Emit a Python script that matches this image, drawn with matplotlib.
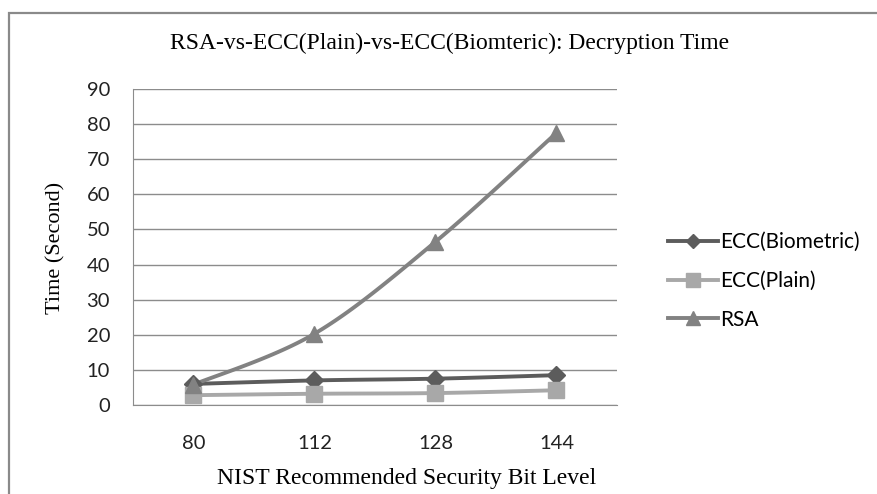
import numpy as np
import matplotlib.pyplot as plt
from matplotlib.patches import Rectangle
from matplotlib.lines import Line2D

bit_levels = ['80', '112', '128', '144']
ecc_biometric = [6.0, 7.0, 7.5, 8.5]
ecc_plain = [2.8, 3.2, 3.4, 4.2]
rsa = [5.8, 20.3, 46.5, 77.5]

W, H = 878, 494
fig = plt.figure(figsize=(W / 100, H / 100), dpi=100)
ax = fig.add_axes([133 / W, (H - 405) / H, (617 - 133) / W, (405 - 89) / H])

# chart frame
fig.add_artist(Rectangle((9 / W, -0.05), 1.2, 1.05 - 13 / H, transform=fig.transFigure,
                         fill=False, edgecolor='#8a8a8a', lw=1.6))

sans = 'Lato'
serif = 'Liberation Serif'


def smooth(xs, ys, sx=121.0, sy=3.52, n=30):
    # bezier smoothing done in pixel space so the curve shape follows the screen
    px = np.array(xs, float) * sx
    py = np.array(ys, float) * sy
    pts = np.column_stack([px, py])
    out = [pts[0]]
    for i in range(len(pts) - 1):
        p0 = pts[i - 1] if i > 0 else pts[i]
        p1, p2 = pts[i], pts[i + 1]
        p3 = pts[i + 2] if i + 2 < len(pts) else pts[i + 1]
        c1 = p1 + (p2 - p0) / 6
        c2 = p2 - (p3 - p1) / 6
        t = np.linspace(0, 1, n)[1:, None]
        seg = ((1 - t) ** 3 * p1 + 3 * (1 - t) ** 2 * t * c1
               + 3 * (1 - t) * t ** 2 * c2 + t ** 3 * p2)
        out.extend(seg)
    out = np.array(out)
    return out[:, 0] / sx, out[:, 1] / sy


xi = np.arange(len(bit_levels))
series = [
    ('ECC(Biometric)', ecc_biometric, '#5c5c5c', 'D', 9.5, 7.5),
    ('ECC(Plain)', ecc_plain, '#a8a8a8', 's', 11.5, 10),
    ('RSA', rsa, '#828282', '^', 12, 10.5),
]

handles = []
for name, vals, col, mk, ms, lms in series:
    cx, cy = smooth(xi, vals)
    ax.plot(cx, cy, color=col, lw=2.8, solid_capstyle='round', zorder=3)
    ax.plot(xi, vals, linestyle='none', marker=mk, markersize=ms,
            color=col, markeredgecolor=col, zorder=4)
    handles.append(Line2D([], [], color=col, lw=2.8, marker=mk, markersize=lms,
                          markeredgecolor=col))

ax.set_xlim(-0.5, 3.5)
ax.set_ylim(0, 90)
ax.set_yticks(range(0, 91, 10))
ax.set_xticks(xi)
ax.set_xticklabels(bit_levels)
ax.grid(axis='y', color='#8c8c8c', lw=1)
ax.set_axisbelow(True)
for s in ['top', 'right']:
    ax.spines[s].set_visible(False)
for s in ['left', 'bottom']:
    ax.spines[s].set_color('#8c8c8c')
ax.tick_params(length=0, labelsize=14.5, colors='#222222')
ax.tick_params(axis='y', pad=16.5)
ax.tick_params(axis='x', pad=21.5)
for lab in ax.get_xticklabels() + ax.get_yticklabels():
    lab.set_family(sans)

fig.text(450 / W, 1 - 43 / H, 'RSA-vs-ECC(Plain)-vs-ECC(Biomteric): Decryption Time',
         family=serif, fontsize=17, ha='center', va='center')
fig.text(56 / W, 1 - 248 / H, 'Time (Second)', family=serif, fontsize=16,
         rotation=90, ha='center', va='center')
fig.text(407 / W, 1 - 478 / H, 'NIST Recommended Security Bit Level', family=serif,
         fontsize=17, ha='center', va='center')

fig.legend(handles=handles, labels=[s[0] for s in series],
           loc='center left', bbox_to_anchor=(668 / W, 1 - 281 / H), frameon=False,
           prop={'family': sans, 'size': 15}, handlelength=2.4, handletextpad=0.1,
           labelspacing=0.9, borderaxespad=0, borderpad=0)

fig.savefig('out.png', dpi=100)
